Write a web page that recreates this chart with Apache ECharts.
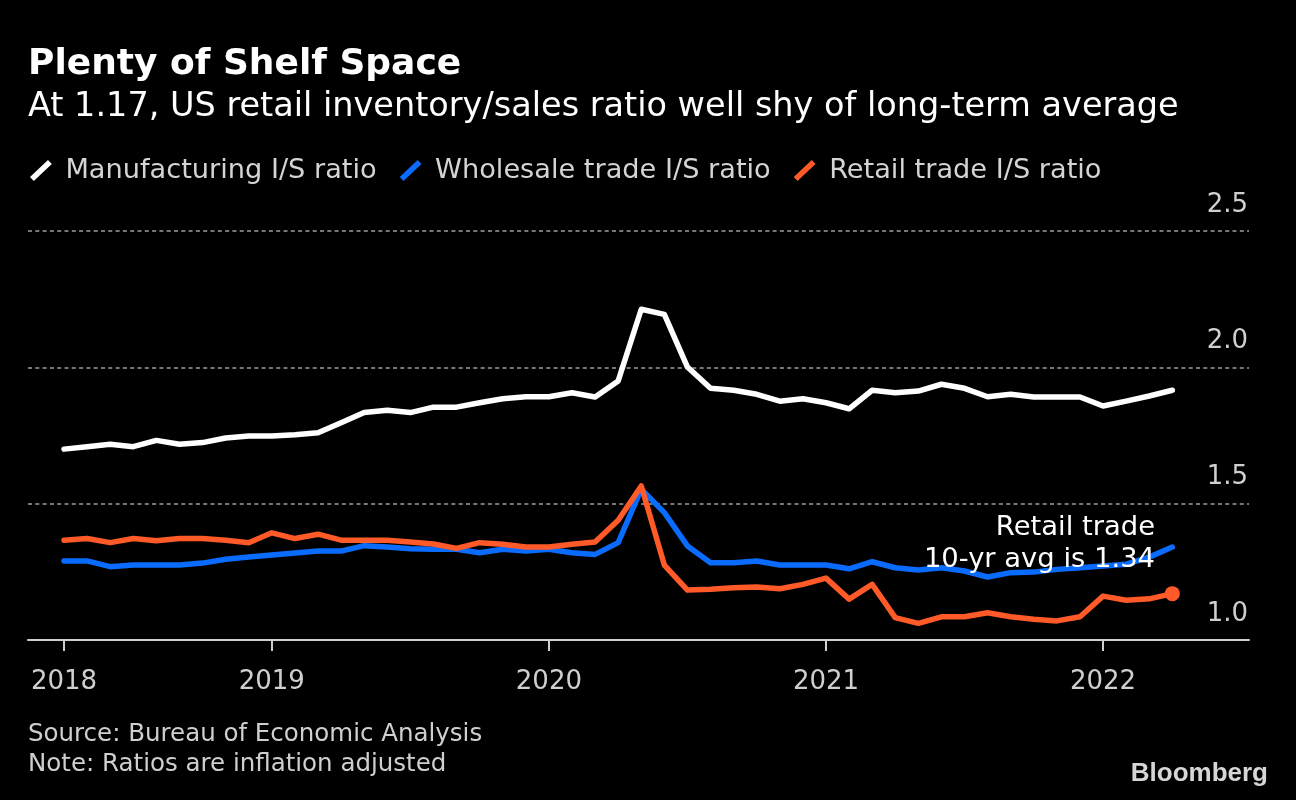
<!DOCTYPE html>
<html>
<head>
<meta charset="utf-8">
<script src="https://cdn.jsdelivr.net/npm/echarts@6/dist/echarts.min.js"></script>
<style>
html,body{margin:0;padding:0;background:#000;}
#chart{width:1296px;height:800px;}
</style>
</head>
<body>
<div id="chart"></div>
<script>
// Monthly observations, Apr 2018 – Apr 2022
const months = [
  '2018-04','2018-05','2018-06','2018-07','2018-08','2018-09','2018-10','2018-11','2018-12',
  '2019-01','2019-02','2019-03','2019-04','2019-05','2019-06','2019-07','2019-08','2019-09','2019-10','2019-11','2019-12',
  '2020-01','2020-02','2020-03','2020-04','2020-05','2020-06','2020-07','2020-08','2020-09','2020-10','2020-11','2020-12',
  '2021-01','2021-02','2021-03','2021-04','2021-05','2021-06','2021-07','2021-08','2021-09','2021-10','2021-11','2021-12',
  '2022-01','2022-02','2022-03','2022-04'
];
const manufacturing = [
  1.700,1.709,1.718,1.709,1.732,1.718,1.724,1.741,1.748,
  1.748,1.753,1.760,1.797,1.834,1.843,1.834,1.854,1.854,1.870,1.885,1.892,
  1.892,1.907,1.891,1.950,2.213,2.194,2.001,1.923,1.916,1.901,1.876,1.885,
  1.870,1.848,1.916,1.907,1.913,1.938,1.923,1.892,1.901,1.891,1.891,1.891,
  1.858,1.876,1.895,1.916
];
const wholesale = [
  1.290,1.290,1.269,1.275,1.275,1.275,1.282,1.296,1.304,
  1.312,1.319,1.326,1.326,1.346,1.341,1.335,1.333,1.333,1.320,1.333,1.326,
  1.333,1.320,1.314,1.357,1.553,1.467,1.345,1.283,1.283,1.290,1.275,1.275,
  1.275,1.261,1.287,1.265,1.257,1.265,1.253,1.231,1.247,1.249,1.259,1.265,
  1.271,1.278,1.304,1.341
];
const retail = [
  1.366,1.372,1.357,1.372,1.364,1.372,1.372,1.366,1.357,
  1.393,1.372,1.388,1.366,1.366,1.366,1.359,1.352,1.336,1.357,1.351,1.341,
  1.341,1.351,1.359,1.439,1.565,1.275,1.183,1.186,1.192,1.194,1.188,1.204,
  1.227,1.150,1.204,1.082,1.061,1.085,1.085,1.100,1.085,1.076,1.070,1.085,
  1.161,1.146,1.151,1.170
];
const seriesNames = ['Manufacturing I/S ratio','Wholesale trade I/S ratio','Retail trade I/S ratio'];
const yearTickMonths = ['2018-04','2019-01','2020-01','2021-01','2022-01'];
const yearTickLabels = ['2018','2019','2020','2021','2022'];
const annotationLines = ['Retail trade', '10-yr avg is 1.34'];

const FONT = 'DejaVu Sans';
const toPairs = arr => arr.map((v, i) => [i, v]);
const tickIdx = yearTickMonths.map(m => months.indexOf(m));
const lastIdx = retail.length - 1;
const legendIcon = 'path://M0.6,17 L18.6,0 L22.4,4 L4.4,21 Z';

const chart = echarts.init(document.getElementById('chart'), null, {renderer: 'canvas'});
chart.setOption({
  backgroundColor: '#000',
  animation: false,
  title: [
    {text: 'Plenty of Shelf Space', left: 28, top: 47, padding: 0,
     textStyle: {color: '#fff', fontFamily: FONT, fontWeight: 'bold', fontSize: 36, lineHeight: 36}},
    {text: 'At 1.17, US retail inventory/sales ratio well shy of long-term average', left: 28, top: 90, padding: 0,
     textStyle: {color: '#fff', fontFamily: FONT, fontWeight: 'normal', fontSize: 33.5, lineHeight: 34}},
    {text: 'Source: Bureau of Economic Analysis\nNote: Ratios are inflation adjusted', left: 28, top: 720, padding: 0,
     textStyle: {color: '#cfcfcf', fontFamily: FONT, fontWeight: 'normal', fontSize: 24.5, lineHeight: 30}}
  ],
  legend: {
    left: 30, top: 157, padding: 0,
    itemWidth: 23, itemHeight: 21, itemGap: 23,
    icon: legendIcon,
    selectedMode: false,
    data: seriesNames,
    textStyle: {color: '#d4d4d4', fontFamily: FONT, fontSize: 27.2, padding: [0, 0, 0, 8]}
  },
  grid: {left: 28, right: 47, top: 231, bottom: 160, containLabel: false},
  xAxis: {
    type: 'value',
    min: -1.56, max: 51.32,
    axisLine: {show: true, onZero: false, lineStyle: {color: '#cfcfcf', width: 2}},
    axisTick: {show: true, length: 11, lineStyle: {color: '#cfcfcf', width: 2}, customValues: tickIdx},
    axisLabel: {
      color: '#cfcfcf', fontFamily: FONT, fontSize: 26, margin: 29,
      customValues: tickIdx,
      formatter: v => yearTickLabels[tickIdx.indexOf(Math.round(v))] || ''
    },
    splitLine: {show: false}
  },
  yAxis: {
    type: 'value', position: 'right',
    min: 1.0, max: 2.5, interval: 0.5,
    axisLine: {show: false}, axisTick: {show: false},
    axisLabel: {
      inside: true, margin: 1, align: 'right', verticalAlign: 'bottom',
      padding: [0, 0, 13, 0],
      color: '#cfcfcf', fontFamily: FONT, fontSize: 26,
      formatter: v => v.toFixed(1)
    },
    splitLine: {show: true, lineStyle: {color: '#777', width: 2, type: [4, 3.3]}}
  },
  series: [
    {name: seriesNames[0], type: 'line', data: toPairs(manufacturing), symbol: 'none',
     itemStyle: {color: '#ffffff'}, lineStyle: {color: '#ffffff', width: 5.5, join: 'round', cap: 'round'},
     emphasis: {disabled: true}, z: 2},
    {name: seriesNames[1], type: 'line', data: toPairs(wholesale), symbol: 'none',
     itemStyle: {color: '#0a6cff'}, lineStyle: {color: '#0a6cff', width: 5.5, join: 'round', cap: 'round'},
     emphasis: {disabled: true}, z: 3},
    {name: seriesNames[2], type: 'line', data: toPairs(retail), symbol: 'circle', showSymbol: true, showAllSymbol: true,
     symbolSize: (v, p) => p.dataIndex === lastIdx ? 15 : 0,
     itemStyle: {color: '#ff5a28', borderWidth: 0}, lineStyle: {color: '#ff5a28', width: 5.5, join: 'round', cap: 'round'},
     emphasis: {disabled: true}, z: 4}
  ],
  graphic: [
    {type: 'text', right: 141, top: 514, z: 10, silent: true,
     style: {text: annotationLines[0], fill: '#fff', font: '27.4px "DejaVu Sans"'}},
    {type: 'text', right: 141, top: 546, z: 10, silent: true,
     style: {text: annotationLines[1], fill: '#fff', font: '27.4px "DejaVu Sans"'}},
    {type: 'text', right: 28, top: 761, z: 10, silent: true,
     style: {text: 'Bloomberg', fill: '#d6d6d6', font: 'bold 26px "Liberation Sans"'}}
  ]
});
</script>
</body>
</html>
